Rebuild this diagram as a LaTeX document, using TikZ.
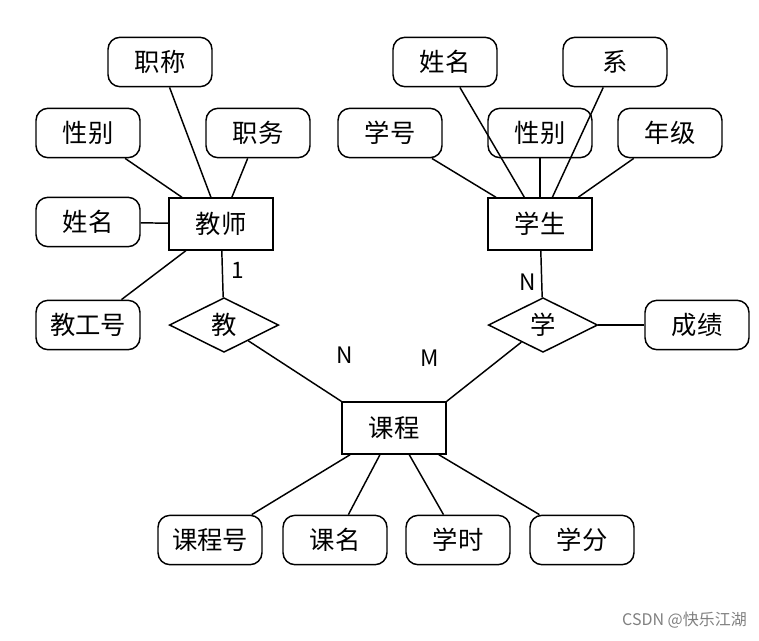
\documentclass[tikz,border=0pt]{standalone}
\usepackage{fontspec}
\setmainfont{Noto Sans CJK SC}
\usetikzlibrary{shapes.geometric}
\tikzset{
  attr/.style = {draw, rounded corners=9pt, minimum width=78pt, minimum height=37pt, font=\fontsize{19}{19}\selectfont},
  ent/.style = {draw, minimum width=78pt, minimum height=39pt, font=\fontsize{19}{19}\selectfont},
  rel/.style = {draw, diamond, aspect=2, minimum width=82pt, minimum height=41pt, inner sep=0pt, font=\fontsize{19}{19}\selectfont},
  card/.style = {font=\itshape\fontsize{17}{17}\selectfont},
}
\begin{document}
\begin{tikzpicture}[x=0.75pt, y=-0.75pt, line width=1.1pt]
  \useasboundingbox (0,0) rectangle (759,640);

  % entities
  \node [ent] (teacher) at (221,224) {教师};
  \node [ent] (student) at (540,224) {学生};
  \node [ent] (course) at (394,428) {课程};

  % relations
  \node [rel] (teach) at (224,325) {教};
  \node [rel] (learn) at (543,325) {学};

  % attributes of teacher
  \node [attr] (t title) at (160,62) {职称};
  \node [attr] (t sex) at (88,133) {性别};
  \node [attr] (t duty) at (258,133) {职务};
  \node [attr] (t name) at (88,222) {姓名};
  \node [attr] (t id) at (88,325) {教工号};

  % attributes of student
  \node [attr] (s name) at (445,62) {姓名};
  \node [attr] (s dept) at (615,62) {系};
  \node [attr] (s id) at (390,133) {学号};
  \node [attr] (s sex) at (540,133) {性别};
  \node [attr] (s grade) at (670,133) {年级};
  \node [attr] (score) at (697,325) {成绩};

  % attributes of course
  \node [attr] (c id) at (210,540) {课程号};
  \node [attr] (c name) at (335,540) {课名};
  \node [attr] (c hours) at (458,540) {学时};
  \node [attr] (c credit) at (582,540) {学分};

  \foreach \a in {t title, t sex, t duty, t name, t id}
    \draw (\a) -- (teacher);
  \foreach \a in {s name, s dept, s id, s sex, s grade}
    \draw (\a) -- (student);
  \foreach \a in {c id, c name, c hours, c credit}
    \draw (\a) -- (course);

  \draw (teacher) -- (teach);
  \draw (student) -- (learn);
  \draw (teach) -- (course.north west);
  \draw (learn) -- (course.north east);
  \draw (learn) -- (score);

  \node [card, font=\fontsize{17}{17}\selectfont] (c1) at (238,270) {1};
  \node [card] (cn1) at (345,355) {N};
  \node [card] (cm) at (430,358) {M};
  \node [card] (cn2) at (528,282) {N};

  \node [text=gray, font=\fontsize{12}{12}\selectfont, anchor=east] (mark) at (752,620) {CSDN @快乐江湖};
\end{tikzpicture}
\end{document}
